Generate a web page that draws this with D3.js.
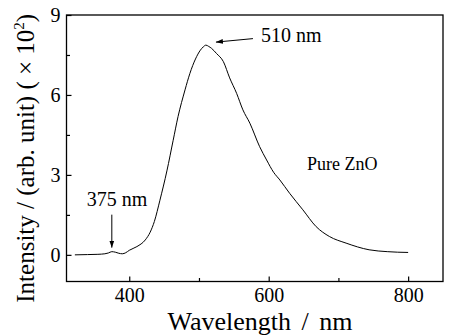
<!DOCTYPE html>
<html><head><meta charset="utf-8">
<script src="https://cdn.jsdelivr.net/npm/d3@7/dist/d3.min.js"></script>
<style>body{margin:0;background:#fff}svg{display:block}svg text{font-family:"Liberation Serif","DejaVu Serif",serif !important;fill:#000}</style>
</head><body><svg id="c" width="449" height="336"></svg>
<script>
const wavelength = [322,340,355,365,370,375,380,385,390,395,400,411,423,430,436,444,454,463,470,480,487,495,502,506,510,514,518,525,535,544,554,563,573,587,597,607,616,630,649,668,687,711,744,770,800];
const intensity  = [0.0,0.01,0.02,0.04,0.07,0.12,0.10,0.06,0.04,0.08,0.17,0.31,0.56,0.85,1.25,2.05,3.15,4.3,5.19,6.19,6.81,7.35,7.68,7.8,7.87,7.82,7.75,7.56,7.25,6.64,6.06,5.44,4.94,4.06,3.56,3.1,2.81,2.31,1.69,1.06,0.69,0.44,0.19,0.12,0.09];
const xMajor = [400,600,800];
const xMinor = [500,700];
const yMajor = [0,3,6,9];
const yMinor = [1.5,4.5,7.5];
const annotations = [
  {text:"510 nm", wl:510, v:7.87},
  {text:"375 nm", wl:375, v:0.12}
];
const seriesLabel = "Pure ZnO";

const svg = d3.select("#c");
const L=66.5, T=15, R=443, B=281.5;
const x = d3.scaleLinear().domain([310,850]).range([L,R]);
const y = d3.scaleLinear().domain([-1,9]).range([B,T]);

svg.append("rect").attr("x",L).attr("y",T).attr("width",R-L).attr("height",B-T)
  .attr("fill","none").attr("stroke","#000").attr("stroke-width",1.3);

const gx = svg.append("g").attr("transform",`translate(0,${B})`)
  .call(d3.axisBottom(x).tickValues(xMajor).tickSizeInner(-5).tickSizeOuter(0).tickPadding(6).tickFormat(d3.format("d")));
const gx2 = svg.append("g").attr("transform",`translate(0,${B})`)
  .call(d3.axisBottom(x).tickValues(xMinor).tickSizeInner(-3.5).tickSizeOuter(0).tickFormat(""));
const gy = svg.append("g").attr("transform",`translate(${L},0)`)
  .call(d3.axisLeft(y).tickValues(yMajor).tickSizeInner(-5).tickSizeOuter(0).tickPadding(6).tickFormat(d3.format("d")));
const gy2 = svg.append("g").attr("transform",`translate(${L},0)`)
  .call(d3.axisLeft(y).tickValues(yMinor).tickSizeInner(-3.5).tickSizeOuter(0).tickFormat(""));
[gx,gx2,gy,gy2].forEach(g=>{
  g.attr("font-family",null).attr("font-size",null);
  g.select(".domain").remove();
  g.selectAll("line").attr("stroke","#000").attr("stroke-width",1.2);
  g.selectAll("text").attr("font-size",20).attr("fill","#000");
});

const pts = wavelength.map((w,i)=>[w,intensity[i]]);
svg.append("path").datum(pts)
  .attr("d", d3.line().x(d=>x(d[0])).y(d=>y(d[1])).curve(d3.curveMonotoneX))
  .attr("fill","none").attr("stroke","#000").attr("stroke-width",1);

const a1 = annotations[0], a2 = annotations[1];
svg.append("defs").append("marker").attr("id","ah").attr("viewBox","0 0 10 10")
  .attr("refX",10).attr("refY",5).attr("markerWidth",7).attr("markerHeight",7).attr("orient","auto")
  .attr("markerUnits","userSpaceOnUse")
  .append("path").attr("d","M0,1.5 L10,5 L0,8.5 Z").attr("fill","#000");
svg.append("line").attr("x1",x(a1.wl)+47).attr("y1",y(a1.v)-6.5).attr("x2",x(a1.wl)+10).attr("y2",y(a1.v)-3)
  .attr("stroke","#000").attr("stroke-width",1).attr("marker-end","url(#ah)");
svg.append("text").attr("x",x(a1.wl)+55).attr("y",y(a1.v)-3).attr("font-size",20).text(a1.text);

svg.append("line").attr("x1",x(a2.wl)).attr("y1",y(a2.v)-37).attr("x2",x(a2.wl)).attr("y2",y(a2.v)-4)
  .attr("stroke","#000").attr("stroke-width",1).attr("marker-end","url(#ah)");
svg.append("text").attr("x",x(a2.wl)-25).attr("y",y(a2.v)-46).attr("font-size",20).text(a2.text);

svg.append("text").attr("x",307).attr("y",170).attr("font-size",18).text(seriesLabel);

svg.append("text").attr("x",260).attr("y",330).attr("text-anchor","middle").attr("font-size",26)
  .attr("word-spacing",4).text("Wavelength / nm");
const yt = svg.append("text").attr("transform",`translate(34,${(T+B)/2+10}) rotate(-90)`)
  .attr("text-anchor","middle").attr("font-size",25);
yt.append("tspan").text("Intensity / (arb. unit) ( \u00D7 10");
yt.append("tspan").attr("font-size",15).attr("dy",-10).text("2");
yt.append("tspan").attr("dy",10).text(")");
</script></body></html>
